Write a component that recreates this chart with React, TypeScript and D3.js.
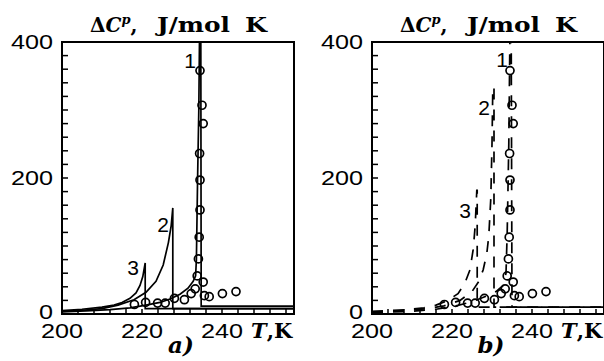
import React from "react";
import * as d3 from "d3";

// experimental points (T in K, dCp in J/mol K), same set in both panels
const expPoints: [number, number][] = [
  [218.1, 14], [220.9, 17], [223.9, 16], [225.8, 16], [228.1, 23], [230.6, 21],
  [232.3, 30], [233.3, 37], [233.8, 56], [234.1, 81], [234.3, 113], [234.5, 153],
  [234.5, 197], [234.4, 236], [235.3, 280], [235.0, 307], [234.5, 358],
  [235.3, 47], [235.6, 27], [236.8, 25.5], [240.1, 30], [243.5, 33],
];

// panel a) solid curves
const solid1: [number, number][] = [
  [200, 3], [206, 4.5], [212, 6.5], [217, 9], [221, 13], [224.5, 17], [227, 22],
  [229.5, 29], [231.5, 38], [232.8, 48], [233.4, 56], [233.6, 80], [233.9, 200],
  [234.2, 300], [234.4, 420], [234.7, 420], [234.8, 11.5], [258, 11.5],
];
const solid2: [number, number][] = [
  [200, 4], [205, 5.5], [210, 8], [214, 13], [218, 21], [221, 32], [223.5, 48],
  [225.3, 72], [226.6, 105], [227.3, 130], [227.7, 156], [227.7, 8], [258, 8],
];
const solid3: [number, number][] = [
  [200, 5], [205, 7], [210, 10], [213, 13], [215, 17], [217, 23], [218.5, 31],
  [219.5, 42], [220.2, 55], [220.8, 75], [220.8, 8], [258, 8],
];

// panel b) dashed curves
const dashed1: [number, number][] = [
  [200, 2], [210, 4], [216, 7], [221, 12], [225, 18], [228.5, 26], [231, 33],
  [232.8, 42], [233.5, 60], [233.8, 120], [234.2, 250], [234.5, 420],
  [234.8, 420], [235, 10], [258, 10],
];
const dashed2: [number, number][] = [
  [200, 3], [208, 5], [214, 8], [218, 12], [222, 20], [225, 33], [226.7, 48],
  [227.8, 65], [228.7, 89], [229.2, 115], [229.7, 170], [230.0, 250], [230.2, 334],
  [230.5, 334], [230.5, 10], [258, 10],
];
const dashed3: [number, number][] = [
  [200, 4], [208, 6], [213, 9], [216, 13], [219, 20], [221.5, 30], [223.2, 45],
  [224.5, 65], [225.3, 95], [225.8, 130], [226.2, 182], [226.3, 182], [226.3, 10], [258, 10],
];

const yTickLabels = [0, 200, 400];
const xTickLabels = [200, 220, 240];

const PANEL_W = 232;
const TOP = 42;
const BOTTOM = 314;
const SERIF = "'DejaVu Serif', serif";
const SANS = "'Liberation Sans', Arial, sans-serif";

type Lab = { text: string; t: number; c: number };

function Panel(props: {
  left: number;
  curves: [number, number][][];
  dashed: boolean;
  labels: Lab[];
  letter: string;
  id: string;
}) {
  const { left, curves, dashed, labels, letter, id } = props;
  const x = d3.scaleLinear().domain([200, 258]).range([left, left + PANEL_W]);
  const y = d3.scaleLinear().domain([0, 400]).range([BOTTOM, TOP]);
  const line = d3.line<[number, number]>().x((d) => x(d[0])).y((d) => y(d[1]));
  const yTicks = d3.range(20, 400, 20);
  const xTicks = d3.range(204, 258, 4);

  return (
    <g>
      <defs>
        <clipPath id={id}>
          <rect x={left} y={TOP} width={PANEL_W} height={BOTTOM - TOP} />
        </clipPath>
      </defs>

      {/* title */}
      <g fontFamily={SERIF} fontWeight="bold" fontSize={20}>
        <text x={left + 28} y={32}>
          <tspan>Δ</tspan>
          <tspan fontStyle="italic">C</tspan>
          <tspan fontStyle="italic" fontSize={13} dy={-8}>p</tspan>
          <tspan dy={8}>,</tspan>
        </text>
        <text x={left + 95} y={32} textLength={73} lengthAdjust="spacingAndGlyphs">J/mol</text>
        <text x={left + 183} y={32} textLength={22} lengthAdjust="spacingAndGlyphs">K</text>
      </g>

      <g clipPath={`url(#${id})`} fill="none" stroke="#000">
        {curves.map((c, i) => (
          <path key={i} d={line(c) || ""} strokeWidth={1.7}
            strokeDasharray={dashed ? "11,10" : undefined} />
        ))}
      </g>

      {expPoints.map((p, i) => (
        <circle key={i} cx={x(p[0])} cy={y(p[1])} r={4} fill="none" stroke="#000" strokeWidth={1.7} />
      ))}

      {/* ticks */}
      <g stroke="#000" strokeWidth={1.5}>
        {yTicks.map((t) => (
          <line key={t} x1={left} x2={left + 6} y1={y(t)} y2={y(t)} />
        ))}
        {xTicks.map((t) => (
          <line key={t} x1={x(t)} x2={x(t)} y1={BOTTOM} y2={BOTTOM - 5} />
        ))}
      </g>
      <rect x={left} y={TOP} width={PANEL_W} height={BOTTOM - TOP} fill="none" stroke="#000" strokeWidth={2} />

      {/* tick labels */}
      <g fontFamily={SANS} fontSize={20}>
        {yTickLabels.map((t) => (
          <text key={t} x={left - 9} y={y(t) + (t === 0 ? 5 : 7)} textAnchor="end"
            textLength={t === 0 ? 14 : 42} lengthAdjust="spacingAndGlyphs">{t}</text>
        ))}
        {xTickLabels.map((t) => (
          <text key={t} x={x(t) - 21} y={338} textLength={42} lengthAdjust="spacingAndGlyphs">{t}</text>
        ))}
      </g>

      {/* curve numbers */}
      <g fontFamily={SANS} fontSize={21}>
        {labels.map((l) => (
          <text key={l.text} x={x(l.t)} y={y(l.c)} textAnchor="middle">{l.text}</text>
        ))}
      </g>

      <text x={left + 189} y={338} fontFamily={SERIF} fontWeight="bold" fontSize={21}>
        <tspan fontStyle="italic">T</tspan>
        <tspan>,K</tspan>
      </text>
      <text x={left + 119} y={353} textAnchor="middle" fontFamily={SERIF}
        fontWeight="bold" fontStyle="italic" fontSize={23}>{letter}</text>
    </g>
  );
}

export default function App() {
  return (
    <svg width={604} height={361} style={{ position: "absolute", left: 0, top: 0, background: "#fff" }}>
      <Panel id="ca" left={62} curves={[solid1, solid2, solid3]} dashed={false} letter="a)"
        labels={[
          { text: "1", t: 232, c: 362 },
          { text: "2", t: 225.25, c: 120 },
          { text: "3", t: 217.75, c: 57 },
        ]} />
      <Panel id="cb" left={372} curves={[dashed1, dashed2, dashed3]} dashed={true} letter="b)"
        labels={[
          { text: "1", t: 232.5, c: 363 },
          { text: "2", t: 228, c: 293 },
          { text: "3", t: 223.25, c: 141 },
        ]} />
    </svg>
  );
}
